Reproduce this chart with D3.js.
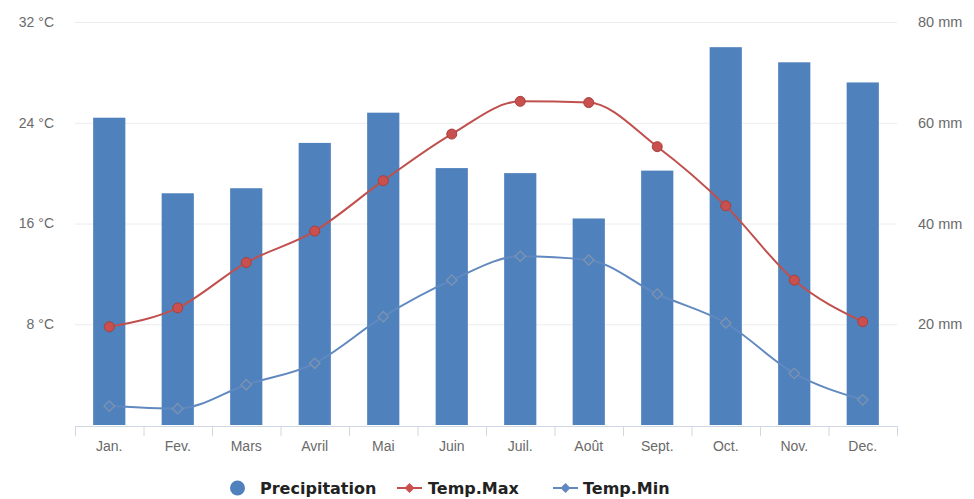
<!DOCTYPE html>
<html>
<head>
<meta charset="utf-8">
<script src="https://cdn.jsdelivr.net/npm/d3@7"></script>
<style>
  html, body { margin: 0; padding: 0; background: #fff; }
  svg { display: block; font-family: "DejaVu Sans", sans-serif; }
</style>
</head>
<body>
<svg id="chart" width="974" height="499"></svg>
<script>
// Monthly climate data
const months = ["Jan.", "Fev.", "Mars", "Avril", "Mai", "Juin", "Juil.", "Août", "Sept.", "Oct.", "Nov.", "Dec."];
const precipitation = [61, 46, 47, 56, 62, 51, 50, 41, 50.5, 75, 72, 68];   // mm
const tempMax = [7.8, 9.3, 12.9, 15.4, 19.4, 23.1, 25.7, 25.6, 22.1, 17.4, 11.5, 8.2]; // °C
const tempMin = [1.5, 1.3, 3.2, 4.9, 8.6, 11.5, 13.4, 13.1, 10.4, 8.1, 4.1, 2.0];      // °C
const tempTicks = [8, 16, 24, 32];
const precTicks = [20, 40, 60, 80];

const svg = d3.select("#chart");
const plotLeft = 75, plotRight = 897, plotTop = 22, plotBottom = 425;

const x = d3.scaleBand().domain(months).range([plotLeft, plotRight]).padding(0);
const yT = d3.scaleLinear().domain([0, 32]).range([plotBottom, plotTop]);
const yP = d3.scaleLinear().domain([0, 80]).range([plotBottom, plotTop]);

// grid lines
svg.append("g").selectAll("line").data(tempTicks).join("line")
  .attr("x1", plotLeft).attr("x2", plotRight)
  .attr("y1", d => yT(d) + 0.5).attr("y2", d => yT(d) + 0.5)
  .attr("stroke", "#ececec").attr("stroke-width", 1);

// left axis (temperature)
const axL = svg.append("g").attr("transform", `translate(${plotLeft - 21},0)`)
  .call(d3.axisLeft(yT).tickValues(tempTicks).tickSize(0).tickPadding(0).tickFormat(d => d + " °C"));
axL.select(".domain").remove();
axL.selectAll("text").attr("fill", "#6a6a6a").style("font-size", "14px");

// right axis (precipitation)
const axR = svg.append("g").attr("transform", `translate(${plotRight + 21},0)`)
  .call(d3.axisRight(yP).tickValues(precTicks).tickSize(0).tickPadding(0).tickFormat(d => d + " mm"));
axR.select(".domain").remove();
axR.selectAll("text").attr("fill", "#6a6a6a").style("font-size", "14.5px");

// bars
const barW = x.bandwidth() * 0.47;
svg.append("g").selectAll("rect").data(precipitation).join("rect")
  .attr("x", (d, i) => x(months[i]) + (x.bandwidth() - barW) / 2)
  .attr("width", barW)
  .attr("y", d => yP(d))
  .attr("height", d => plotBottom - yP(d))
  .attr("fill", "#4f81bd");

// bottom axis
const axB = svg.append("g").attr("transform", `translate(0,${plotBottom + 1})`)
  .call(d3.axisBottom(x).tickSize(0).tickPadding(15));
axB.select(".domain").attr("stroke", "#d0d8e4");
axB.selectAll("text").attr("fill", "#6a6a6a").style("font-size", "14px");
svg.append("g").selectAll("line").data(d3.range(months.length + 1)).join("line")
  .attr("x1", i => plotLeft + i * x.step() + 0.5).attr("x2", i => plotLeft + i * x.step() + 0.5)
  .attr("y1", plotBottom + 1).attr("y2", plotBottom + 11)
  .attr("stroke", "#d0d8e4");

const cx = i => x(months[i]) + x.bandwidth() / 2;

// Temp.Min line with diamond markers
const lineMin = d3.line().x((d, i) => cx(i)).y(d => yT(d)).curve(d3.curveMonotoneX);
svg.append("path").datum(tempMin).attr("d", lineMin)
  .attr("fill", "none").attr("stroke", "#6189c0").attr("stroke-width", 2);
svg.append("g").selectAll("path").data(tempMin).join("path")
  .attr("d", d3.symbol(d3.symbolDiamond2, 70))
  .attr("transform", (d, i) => `translate(${cx(i)},${yT(d)})`)
  .attr("fill", "#5383be").attr("stroke", "#8194ad").attr("stroke-width", 1.2);

// Temp.Max line with circle markers
const lineMax = d3.line().x((d, i) => cx(i)).y(d => yT(d)).curve(d3.curveMonotoneX);
svg.append("path").datum(tempMax).attr("d", lineMax)
  .attr("fill", "none").attr("stroke", "#c0504d").attr("stroke-width", 2);
svg.append("g").selectAll("circle").data(tempMax).join("circle")
  .attr("cx", (d, i) => cx(i)).attr("cy", d => yT(d)).attr("r", 5)
  .attr("fill", "#c9504e").attr("stroke", "#a6403d").attr("stroke-width", 1);

// legend
const lg = svg.append("g").style("font-size", "16px").style("font-weight", "bold").attr("fill", "#222");
lg.append("circle").attr("cx", 237.5).attr("cy", 488).attr("r", 7.5).attr("fill", "#4f81bd");
lg.append("text").attr("x", 260).attr("y", 494).text("Precipitation");
lg.append("line").attr("x1", 397).attr("x2", 422).attr("y1", 488).attr("y2", 488)
  .attr("stroke", "#c0504d").attr("stroke-width", 2);
lg.append("path").attr("d", d3.symbol(d3.symbolDiamond2, 64))
  .attr("transform", "translate(409.5,488)").attr("fill", "#c9504e");
lg.append("text").attr("x", 428).attr("y", 494).text("Temp.Max");
lg.append("line").attr("x1", 553).attr("x2", 578).attr("y1", 488).attr("y2", 488)
  .attr("stroke", "#6189c0").attr("stroke-width", 2);
lg.append("path").attr("d", d3.symbol(d3.symbolDiamond2, 64))
  .attr("transform", "translate(565.5,488)").attr("fill", "#6189c0");
lg.append("text").attr("x", 583).attr("y", 494).text("Temp.Min");
</script>
</body>
</html>
